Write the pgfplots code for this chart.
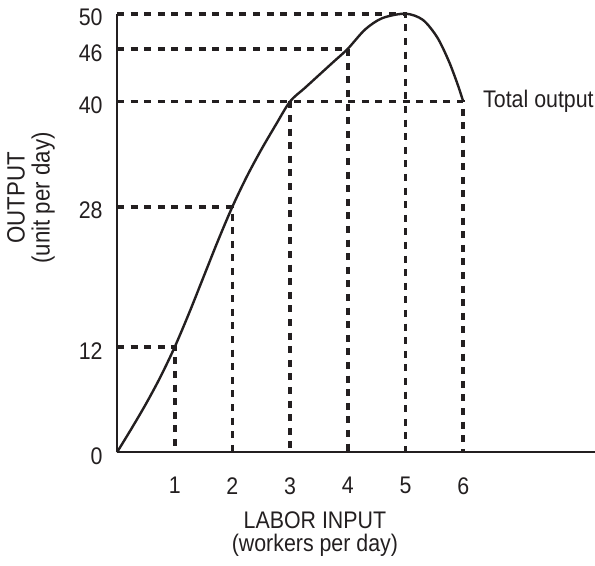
\documentclass[border=0pt]{standalone}
\usepackage{fontspec}
\setmainfont{Liberation Sans}[FakeStretch=0.89]
\usepackage{pgfplots}
\pgfplotsset{compat=1.18}
\definecolor{ink}{RGB}{35,31,32}
\begin{document}
\fontsize{12}{11.5}\selectfont
\begin{tikzpicture}
\begin{axis}[
  x=28.85pt, y=4.386pt,
  xmin=0, xmax=8.284, ymin=0, ymax=50,
  axis x line=bottom, axis y line=left,
  every outer x axis line/.append style={-},
  every outer y axis line/.append style={-},
  axis line style={ink, line width=1.1pt},
  clip=false,
  major tick length=0pt,
  xtick={1,2,3,4,5,6},
  ytick={0,12,28,40,46,50},
  /pgf/number format/assume math mode=true,
  tick label style={text=ink},
  xticklabel style={yshift=-8.3pt},
  yticklabel style={xshift=-3pt, yshift=-2pt},
  xlabel={LABOR INPUT\\(workers per day)},
  ylabel={OUTPUT\\(unit per day)},
  xlabel style={at={(rel axis cs:0.414,-0.1862)}, anchor=center, align=center, text=ink},
  ylabel style={at={(rel axis cs:-0.180,0.58)}, anchor=center, align=center, rotate=0, text=ink, font=\fontsize{12.5}{12.5}\selectfont},
]
% dashed guide lines
\addplot[ink, line width=1.9pt, dash pattern=on 3.5pt off 3.3pt] coordinates {(0,12) (1,12) (1,0)};
\addplot[ink, line width=1.9pt, dash pattern=on 3.5pt off 3.3pt] coordinates {(0,28) (2,28) (2,0)};
\addplot[ink, line width=1.9pt, dash pattern=on 3.5pt off 3.3pt] coordinates {(0,40) (6,40) (6,0)};
\addplot[ink, line width=1.9pt, dash pattern=on 3.5pt off 3.3pt] coordinates {(3,40) (3,0)};
\addplot[ink, line width=1.9pt, dash pattern=on 3.5pt off 3.3pt] coordinates {(0,46) (4,46) (4,0)};
\addplot[ink, line width=1.9pt, dash pattern=on 3.5pt off 3.3pt] coordinates {(0,50) (5,50) (5,0)};
% total output curve
\addplot[ink, line width=1.2pt, smooth, tension=0.5] coordinates {
  (0,0) (0.25,2.69) (0.5,5.5) (0.75,8.56) (1,12) (1.25,15.88) (1.5,20)
  (1.75,24.12) (2,28) (2.25,31.44) (2.5,34.5) (2.75,37.31) (3,40)
  (3.25,41.5) (3.5,43) (3.75,44.5) (4,46) (4.3,48.2) (4.6,49.5) (5,50) (5.3,49.3)
  (5.55,47.3) (5.75,44.6) (5.9,42) (6,40)};
\node[anchor=west, inner sep=0pt, text=ink] at (axis cs:6.34,40) {Total output};
\coordinate (bl) at (axis cs:-2.028,-12.85);
\coordinate (tr) at (axis cs:8.284,51.56);
\end{axis}
\pgfresetboundingbox
\path (bl) rectangle (tr);
\end{tikzpicture}
\end{document}
